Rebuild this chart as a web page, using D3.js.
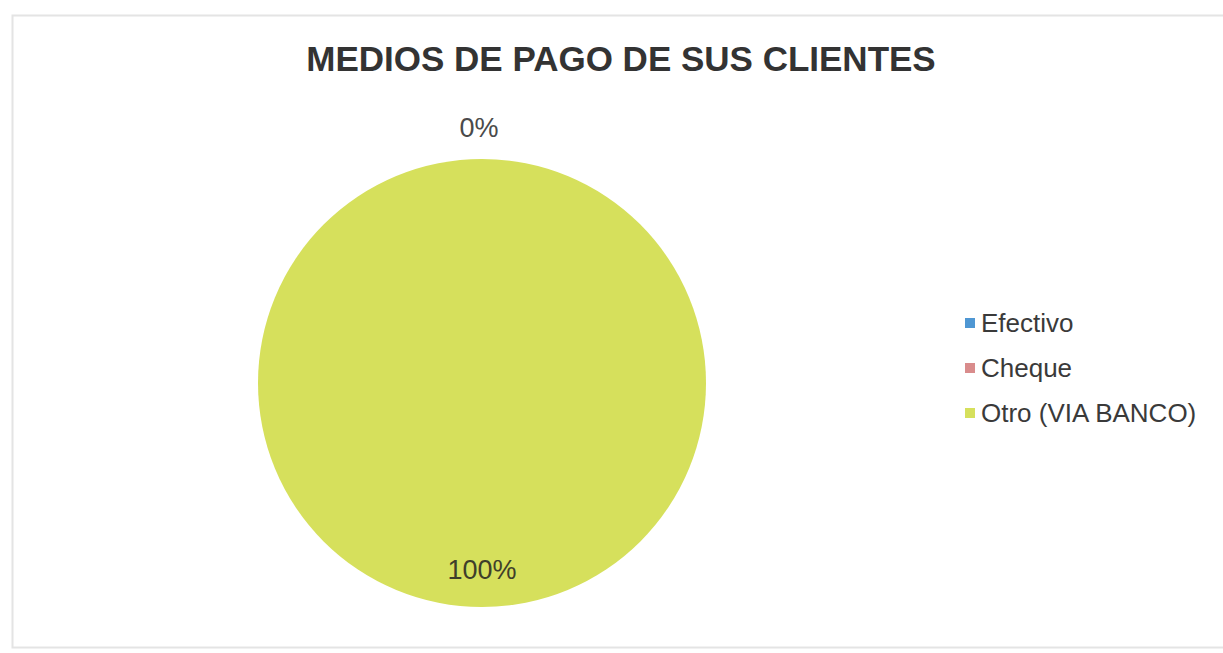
<!DOCTYPE html>
<html>
<head>
<meta charset="utf-8">
<script src="https://cdn.jsdelivr.net/npm/d3@7"></script>
<style>
  html, body { margin: 0; padding: 0; background: #fff; }
  svg { display: block; font-family: "Liberation Sans", Arial, sans-serif; }
</style>
</head>
<body>
<svg id="chart" width="1223" height="653"></svg>
<script>
// Payment methods and their share of clients
const categories = ["Efectivo", "Cheque", "Otro (VIA BANCO)"];
const values = [0, 0, 100];
const colors = ["#4f97d3", "#d98c8c", "#d6e05c"];
const title = "MEDIOS DE PAGO DE SUS CLIENTES";

const svg = d3.select("#chart");
const W = 1223, H = 653;

// Chart frame
svg.append("rect")
  .attr("x", 12.5).attr("y", 15.5)
  .attr("width", W + 10).attr("height", 632)
  .attr("fill", "#fff")
  .attr("stroke", "#e4e4e4")
  .attr("stroke-width", 2);

// Title
svg.append("text")
  .attr("x", 621).attr("y", 71)
  .attr("text-anchor", "middle")
  .attr("font-size", 35)
  .attr("font-weight", "bold")
  .attr("fill", "#333")
  .text(title);

// Pie
const cx = 482, cy = 383, r = 224;
const total = d3.sum(values);
const pie = d3.pie().sort(null).value(d => d.v);
const arcs = pie(categories.map((c, i) => ({ c, v: values[i], i })));
const arc = d3.arc().innerRadius(0).outerRadius(r);
const colorScale = d3.scaleOrdinal().domain(categories).range(colors);

const g = svg.append("g").attr("transform", `translate(${cx},${cy})`);
g.selectAll("path.slice")
  .data(arcs)
  .join("path")
  .attr("class", "slice")
  .attr("d", arc)
  .attr("fill", d => colorScale(d.data.c));

// Data labels: zero slices sit outside at the top, the full slice inside near the bottom
const fmt = d3.format(".0%");
const labeled = new Set();
arcs.forEach(d => {
  const txt = fmt(d.data.v / total);
  let x, y, fill;
  if (d.data.v === 0) {
    if (labeled.has("zero")) return;
    labeled.add("zero");
    const a = d.startAngle;
    x = Math.sin(a) * (r + 33) - 3;
    y = -Math.cos(a) * (r + 33) + 11;
    fill = "#4a4a4a";
  } else {
    const a = (d.startAngle + d.endAngle) / 2;
    x = Math.sin(a) * (r * 0.84);
    y = -Math.cos(a) * (r * 0.84) + 8;
    fill = "#3f3f2a";
  }
  g.append("text")
    .attr("x", x).attr("y", y)
    .attr("text-anchor", "middle")
    .attr("font-size", 27)
    .attr("fill", fill)
    .text(txt);
});

// Legend
const legend = svg.append("g").attr("transform", "translate(965,323)");
const row = legend.selectAll("g")
  .data(categories)
  .join("g")
  .attr("transform", (d, i) => `translate(0,${i * 45})`);
row.append("rect")
  .attr("x", 0).attr("y", -5)
  .attr("width", 10).attr("height", 10)
  .attr("fill", d => colorScale(d));
row.append("text")
  .attr("x", 16).attr("y", 9)
  .attr("font-size", 26)
  .attr("fill", "#3a3a3a")
  .text(d => d);
</script>
</body>
</html>
